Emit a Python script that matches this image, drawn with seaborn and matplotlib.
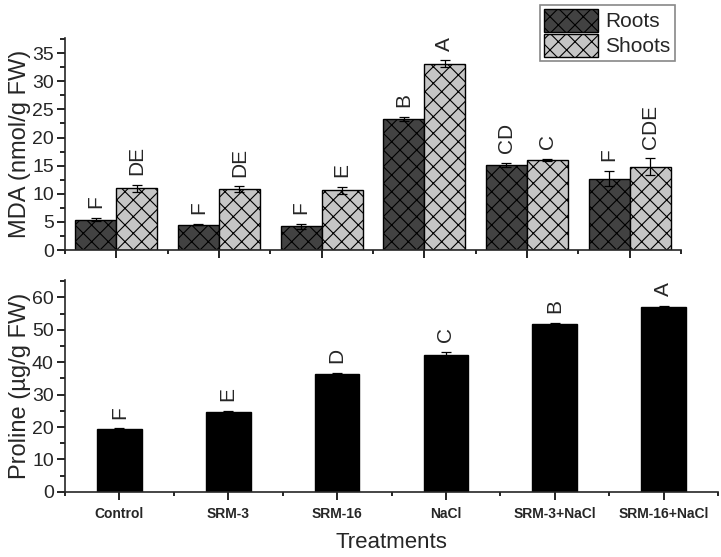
import numpy as np
import pandas as pd
import matplotlib
matplotlib.use("Agg")
import matplotlib.pyplot as plt
from matplotlib.ticker import MultipleLocator
import seaborn as sns

# Dane
treatments = ["Control", "SRM-3", "SRM-16", "NaCl", "SRM-3+NaCl", "SRM-16+NaCl"]
tissues = ["Roots", "Shoots"]

mda_roots = [5.4, 4.5, 4.2, 23.3, 15.1, 12.7]
mda_roots_err = [0.3, 0.1, 0.5, 0.4, 0.4, 1.4]
mda_shoots = [11.0, 10.8, 10.6, 33.1, 16.0, 14.8]
mda_shoots_err = [0.6, 0.5, 0.6, 0.6, 0.2, 1.5]
roots_letters = ["F", "F", "F", "B", "CD", "F"]
shoots_letters = ["DE", "DE", "E", "A", "C", "CDE"]

proline = [19.3, 24.7, 36.2, 42.2, 51.7, 57.1]
proline_err = [0.3, 0.2, 0.6, 1.0, 0.5, 0.2]
proline_letters = ["F", "E", "D", "C", "B", "A"]

sns.set_theme(style="ticks")
plt.rcParams['font.family'] = ['Liberation Sans', 'DejaVu Sans']
plt.rcParams['hatch.linewidth'] = 0.8
plt.rcParams['axes.linewidth'] = 1.2

df_mda = pd.DataFrame({
    "treatment": treatments * 2,
    "tissue": ["Roots"] * 6 + ["Shoots"] * 6,
    "mda": mda_roots + mda_shoots,
})
df_pro = pd.DataFrame({"treatment": treatments, "proline": proline})

fig = plt.figure(figsize=(7.21, 5.57), dpi=100)
ax1 = fig.add_axes([0.090, 0.551, 0.8545, 0.381])
ax2 = fig.add_axes([0.090, 0.117, 0.906, 0.380])

# Panel górny: MDA
sns.barplot(data=df_mda, x="treatment", y="mda", hue="tissue", order=treatments,
            hue_order=tissues, palette=["#424242", "#c6c6c6"], width=0.8,
            errorbar=None, edgecolor="black", linewidth=1.0, legend=False, ax=ax1)

errs = [mda_roots_err, mda_shoots_err]
vals = [mda_roots, mda_shoots]
lets = [roots_letters, shoots_letters]
for cont, e, v, l in zip(ax1.containers, errs, vals, lets):
    xs = [p.get_x() + p.get_width() / 2 for p in cont.patches]
    for p in cont.patches:
        p.set_hatch("xx")
    ax1.errorbar(xs, v, yerr=e, fmt="none", ecolor="black", elinewidth=0.9,
                 capsize=3.5, capthick=0.9)
    for x, y, err, t in zip(xs, v, e, l):
        ax1.annotate(t, (x, y + err), xytext=(0, 7), textcoords="offset points",
                     rotation=90, ha="center", va="bottom", fontsize=15)

ax1.set_xlim(-0.5, 5.5)
ax1.set_ylim(0, 37.7)
ax1.yaxis.set_major_locator(MultipleLocator(5))
ax1.yaxis.set_minor_locator(MultipleLocator(2.5))
ax1.xaxis.set_minor_locator(MultipleLocator(1, offset=0.5))
ax1.set_xticklabels([])
ax1.set_xlabel("")
ax1.set_ylabel("MDA (nmol/g FW)", fontsize=17, labelpad=1)
ax1.tick_params(axis="y", labelsize=14, pad=2)
leg = ax1.legend(ax1.containers, tissues, loc="upper right", bbox_to_anchor=(0.99, 1.156),
                 borderaxespad=0, fontsize=15, fancybox=False, framealpha=1,
                 edgecolor="#888888", handlelength=2.6, handleheight=1.3,
                 labelspacing=0.12, borderpad=0.2, handletextpad=0.35)
leg.get_frame().set_linewidth(1.2)

# Panel dolny: prolina
sns.barplot(data=df_pro, x="treatment", y="proline", order=treatments, color="black",
            width=0.41, errorbar=None, edgecolor="black", ax=ax2)
cont = ax2.containers[0]
xs = [p.get_x() + p.get_width() / 2 for p in cont.patches]
ax2.errorbar(xs, proline, yerr=proline_err, fmt="none", ecolor="black", elinewidth=0.9,
             capsize=3.5, capthick=0.9)
for x, y, err, t in zip(xs, proline, proline_err, proline_letters):
    ax2.annotate(t, (x, y + err), xytext=(0, 7), textcoords="offset points",
                 rotation=90, ha="center", va="bottom", fontsize=15)

ax2.set_xlim(-0.5, 5.5)
ax2.set_ylim(0, 65.3)
ax2.yaxis.set_major_locator(MultipleLocator(10))
ax2.yaxis.set_minor_locator(MultipleLocator(5))
ax2.xaxis.set_minor_locator(MultipleLocator(1, offset=0.5))
ax2.set_ylabel("Proline (µg/g FW)", fontsize=17, labelpad=1)
ax2.set_xlabel("Treatments", fontsize=16, labelpad=8)
ax2.tick_params(axis="y", labelsize=14, pad=2)
ax2.tick_params(axis="x", labelsize=10, pad=5)
for lab in ax2.get_xticklabels():
    lab.set_fontweight("bold")

for ax in (ax1, ax2):
    sns.despine(ax=ax)
    ax.tick_params(which="major", length=6, width=1.2, color="black")
    ax.tick_params(which="minor", length=3.5, width=1.2, color="black")
    ax.tick_params(axis="x", which="minor", length=3)

fig.savefig("out.png", dpi=100)
